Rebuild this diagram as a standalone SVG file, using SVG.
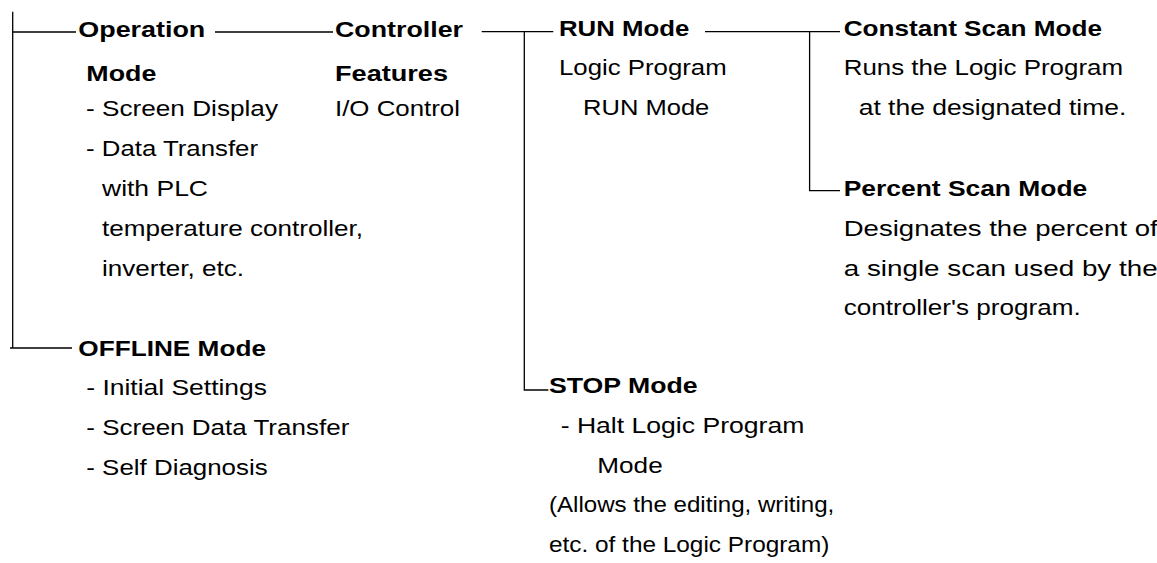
<svg xmlns="http://www.w3.org/2000/svg" width="1157" height="563" viewBox="0 0 1157 563">
<style>
text{font-family:"Liberation Sans",Arial,Helvetica,sans-serif;font-size:22.5px;fill:#000;}
.b{font-weight:bold;}
.c{stroke:#000;stroke-width:1.3;fill:none;}
</style>
<rect width="1157" height="563" fill="#fff"/>
<g id="connectors">
<path class="c" d="M12.7 11.7V348M12.7 32H76M10 348H72M215 32H333M481.7 31.7H553.3M524.3 31.7V390H548.3M705 31.7H840M809.6 31.7V190.7H840"/>
</g>
<g id="operation-mode">
<text class="b" x="78.3" y="37" textLength="127" lengthAdjust="spacingAndGlyphs">Operation</text>
<text class="b" x="86.3" y="81" textLength="70" lengthAdjust="spacingAndGlyphs">Mode</text>
<text x="86" y="116" textLength="192" lengthAdjust="spacingAndGlyphs">- Screen Display</text>
<text x="86" y="156" textLength="172" lengthAdjust="spacingAndGlyphs">- Data Transfer</text>
<text x="102" y="196" textLength="106" lengthAdjust="spacingAndGlyphs">with PLC</text>
<text x="102" y="236" textLength="261" lengthAdjust="spacingAndGlyphs">temperature controller,</text>
<text x="102" y="276" textLength="142" lengthAdjust="spacingAndGlyphs">inverter, etc.</text>
</g>
<g id="controller-features">
<text class="b" x="335" y="37" textLength="128" lengthAdjust="spacingAndGlyphs">Controller</text>
<text class="b" x="335" y="81" textLength="113" lengthAdjust="spacingAndGlyphs">Features</text>
<text x="335" y="116" textLength="125" lengthAdjust="spacingAndGlyphs">I/O Control</text>
</g>
<g id="run-mode">
<text class="b" x="559" y="36" textLength="130.3" lengthAdjust="spacingAndGlyphs">RUN Mode</text>
<text x="559" y="75" textLength="167.7" lengthAdjust="spacingAndGlyphs">Logic Program</text>
<text x="583" y="115" textLength="126.3" lengthAdjust="spacingAndGlyphs">RUN Mode</text>
</g>
<g id="constant-scan-mode">
<text class="b" x="843.7" y="36" textLength="258.3" lengthAdjust="spacingAndGlyphs">Constant Scan Mode</text>
<text x="843.7" y="75" textLength="279.3" lengthAdjust="spacingAndGlyphs">Runs the Logic Program</text>
<text x="858.7" y="115" textLength="267.6" lengthAdjust="spacingAndGlyphs">at the designated time.</text>
</g>
<g id="percent-scan-mode">
<text class="b" x="843.7" y="196" textLength="243.6" lengthAdjust="spacingAndGlyphs">Percent Scan Mode</text>
<text x="843.7" y="236" textLength="314" lengthAdjust="spacingAndGlyphs">Designates the percent of</text>
<text x="843.7" y="276" textLength="314" lengthAdjust="spacingAndGlyphs">a single scan used by the</text>
<text x="843.7" y="315" textLength="237" lengthAdjust="spacingAndGlyphs">controller's program.</text>
</g>
<g id="offline-mode">
<text class="b" x="78.3" y="356" textLength="187.7" lengthAdjust="spacingAndGlyphs">OFFLINE Mode</text>
<text x="86.3" y="395" textLength="180.7" lengthAdjust="spacingAndGlyphs">- Initial Settings</text>
<text x="86.3" y="435" textLength="263" lengthAdjust="spacingAndGlyphs">- Screen Data Transfer</text>
<text x="86.3" y="475" textLength="181.4" lengthAdjust="spacingAndGlyphs">- Self Diagnosis</text>
</g>
<g id="stop-mode">
<text class="b" x="549" y="393.3" textLength="148.7" lengthAdjust="spacingAndGlyphs">STOP Mode</text>
<text x="560.7" y="433.3" textLength="243.6" lengthAdjust="spacingAndGlyphs">- Halt Logic Program</text>
<text x="597.3" y="472.7" textLength="65.4" lengthAdjust="spacingAndGlyphs">Mode</text>
<text x="549" y="511.7" textLength="285.3" lengthAdjust="spacingAndGlyphs">(Allows the editing, writing,</text>
<text x="549" y="551.7" textLength="280.3" lengthAdjust="spacingAndGlyphs">etc. of the Logic Program)</text>
</g>
</svg>
